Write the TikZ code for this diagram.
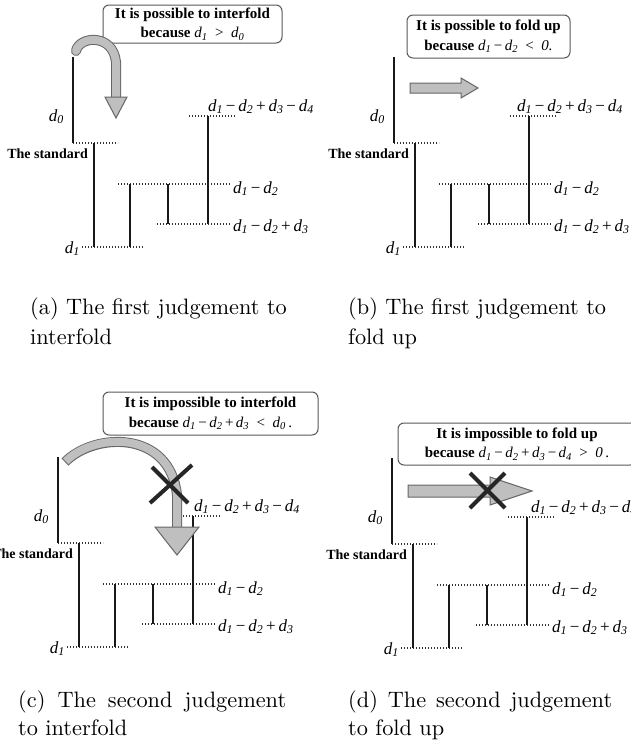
\documentclass[tikz,border=0pt]{standalone}
\usepackage{fontspec}
\newfontfamily\lab{Liberation Serif}
\newfontfamily\capfont{lmroman10-regular.otf}
\newcommand\dd[1]{{\mdseries\itshape d\textsubscript{#1}}}
\newcommand\mi{\,−\,}
\newcommand\pl{\,+\,}
\tikzset{
  vline/.style={line width=1.9pt, black!90},
  thickvline/.style={line width=2.7pt, black!90},
  dotline/.style={line width=1.1pt, black!80, dash pattern=on 1.3pt off 1.7pt},
  dlab/.style={font=\lab\fontsize{17}{20}\selectfont, inner sep=0pt},
  stdlab/.style={font=\lab\bfseries\fontsize{14}{16}\selectfont, inner sep=0pt},
  msgbox/.style={draw=black!65, line width=1pt, rounded corners=6pt, fill=white,
    align=center, inner sep=0pt, font=\lab\bfseries\fontsize{15}{19.5}\selectfont},
  capline/.style={font=\capfont\fontsize{22.3}{29}\selectfont, anchor=base west, inner sep=0pt},
  arrowout/.style={line width=10pt, black!60},
  arrowin/.style={line width=8pt, black!25},
  headstyle/.style={fill=black!25, draw=black!60, line width=1pt, line join=miter},
  cross/.style={line width=4pt, black!85}
}
% #1 = name prefix, #2 = x of the top label
\newcommand\foldpanel[2]{%
  \coordinate (#1d0t) at (73,57);
  \coordinate (#1std) at (73,143);
  \coordinate (#1stdR) at (118,143);
  \coordinate (#1aT) at (94,143);
  \coordinate (#1aB) at (94,247);
  \coordinate (#1bL) at (82,247);
  \coordinate (#1bR) at (143,247);
  \coordinate (#1cT) at (130,184);
  \coordinate (#1cB) at (130,247);
  \coordinate (#1eL) at (118,184);
  \coordinate (#1eR) at (230,184);
  \coordinate (#1fT) at (168,184);
  \coordinate (#1fB) at (168,224);
  \coordinate (#1gL) at (157,224);
  \coordinate (#1gR) at (230,224);
  \coordinate (#1hT) at (208,116);
  \coordinate (#1hB) at (208,224);
  \coordinate (#1iL) at (189,116);
  \coordinate (#1iR) at (236,116);
  \draw[dotline] (#1std) -- (#1stdR);
  \draw[dotline] (#1bL) -- (#1bR);
  \draw[dotline] (#1eL) -- (#1eR);
  \draw[dotline] (#1gL) -- (#1gR);
  \draw[dotline] (#1iL) -- (#1iR);
  \draw[vline] (#1d0t) -- (#1std);
  \draw[vline] (#1aT) -- (#1aB);
  \draw[vline] (#1cT) -- (#1cB);
  \draw[thickvline] (#1fT) -- (#1fB);
  \draw[vline] (#1hT) -- (#1hB);
  \node[dlab, anchor=base east] (#1ld0) at (64,121) {\dd0};
  \node[stdlab, anchor=base east] (#1lstd) at (88,158) {The standard};
  \node[dlab, anchor=base east] (#1ld1) at (80,253) {\dd1};
  \node[dlab, anchor=base west] (#1l12) at (233,193) {\dd1\mi\dd2};
  \node[dlab, anchor=base west] (#1l123) at (233,231) {\dd1\mi\dd2\pl\dd3};
  \node[dlab, anchor=base west] (#1l1234) at (#2,111) {\dd1\mi\dd2\pl\dd3\mi\dd4};
}
\begin{document}
\begin{tikzpicture}[x=1pt,y=-1pt]
\useasboundingbox (0,0) rectangle (630,745);
\fill[white] (0,0) rectangle (630,745);

% ---------- panels ----------
\begin{scope}[shift={(0,0)}]\foldpanel{a}{208}\end{scope}
\begin{scope}[shift={(321,0)}]\foldpanel{b}{196}\end{scope}
\begin{scope}[shift={(-15,400)}]\foldpanel{c}{209}\end{scope}
\begin{scope}[shift={(319,401)}]\foldpanel{d}{212}\end{scope}

% ---------- message boxes ----------
\node[msgbox, minimum width=179, minimum height=38] (boxa) at (192.5,24)
  {It is possible to interfold\\because {\mdseries\dd1 ~>~ \dd0}};
\node[msgbox, minimum width=163, minimum height=43] (boxb) at (488.5,36.5)
  {It is possible to fold up\\because {\mdseries\dd1\mi\dd2 ~<~ \textit{0.}}};
\node[msgbox, minimum width=215, minimum height=43] (boxc) at (210.5,413.5)
  {It is impossible to interfold\\because {\mdseries\dd1\mi\dd2\pl\dd3 ~<~ \dd0\,.}};
\node[msgbox, minimum width=238, minimum height=42] (boxd) at (517,444)
  {It is impossible to fold up\\because {\mdseries\dd1\mi\dd2\pl\dd3\mi\dd4 ~>~ \textit{0}\,.}};

% ---------- arrow (a) ----------
\coordinate (aAs) at (76,51);
\coordinate (aAe) at (116,99);
\coordinate (aHl) at (105,97);
\coordinate (aHr) at (127,97);
\coordinate (aHt) at (116,118);
\draw[arrowout, line cap=round] (aAs) .. controls (79,36) and (113,33) .. (116,62) -- (aAe);
\draw[arrowin, line cap=round] (aAs) .. controls (79,36) and (113,33) .. (116,62) -- (aAe);
\filldraw[headstyle] (aHl) -- (aHr) -- (aHt) -- cycle;

% ---------- arrow (b) ----------
\coordinate (bA1) at (410,83);
\coordinate (bA2) at (461,83);
\coordinate (bA3) at (461,78);
\coordinate (bA4) at (478,88);
\coordinate (bA5) at (461,98);
\coordinate (bA6) at (461,93);
\coordinate (bA7) at (410,93);
\filldraw[headstyle] (bA1) -- (bA2) -- (bA3) -- (bA4) -- (bA5) -- (bA6) -- (bA7) -- cycle;

% ---------- arrow (c) ----------
\coordinate (cAs) at (65,462);
\coordinate (cAe) at (177,529);
\coordinate (cHl) at (155,527);
\coordinate (cHr) at (199,527);
\coordinate (cHt) at (177,555);
\draw[arrowout] (cAs) .. controls (95,432) and (170,430) .. (177,495) -- (cAe);
\draw[arrowin, shorten <=1pt] (cAs) .. controls (95,432) and (170,430) .. (177,495) -- (cAe);
\filldraw[headstyle] (cHl) -- (cHr) -- (cHt) -- cycle;
\coordinate (cX1) at (150,503);
\coordinate (cX2) at (192,465);
\coordinate (cX3) at (152,467);
\coordinate (cX4) at (188,503);
\draw[cross] (cX1) -- (cX2);
\draw[cross] (cX3) -- (cX4);

% ---------- arrow (d) ----------
\coordinate (dA1) at (408,485);
\coordinate (dA2) at (490,485);
\coordinate (dA3) at (490,477);
\coordinate (dA4) at (532,491);
\coordinate (dA5) at (490,505);
\coordinate (dA6) at (490,497);
\coordinate (dA7) at (408,497);
\filldraw[headstyle] (dA1) -- (dA2) -- (dA3) -- (dA4) -- (dA5) -- (dA6) -- (dA7) -- cycle;
\coordinate (dX1) at (470,473);
\coordinate (dX2) at (505,508);
\coordinate (dX3) at (505,473);
\coordinate (dX4) at (470,508);
\draw[cross] (dX1) -- (dX2);
\draw[cross] (dX3) -- (dX4);

% ---------- captions ----------
\node[capline] (capa1) at (30,314) {(a) The first judgement to};
\node[capline] (capa2) at (30,344) {interfold};
\node[capline] (capb1) at (348,314) {(b) The first judgement to};
\node[capline] (capb2) at (348,344) {fold up};
\node[capline] (capc1) at (18,707) {\makebox[268pt][s]{(c) The second judgement}};
\node[capline] (capc2) at (18,735) {to interfold};
\node[capline] (capd1) at (348,707) {\makebox[264pt][s]{(d) The second judgement}};
\node[capline] (capd2) at (348,735) {to fold up};
\end{tikzpicture}
\end{document}
